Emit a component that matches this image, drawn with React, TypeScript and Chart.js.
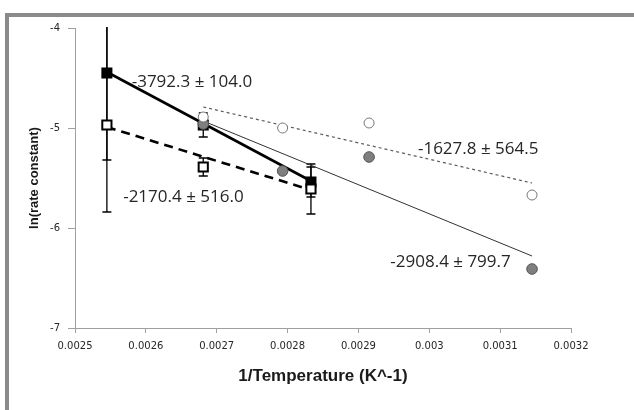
import React, { useEffect, useRef } from "react";
import { Chart, registerables } from "chart.js";

Chart.register(...registerables);

// ---- data ----
const squareX = [0.002545, 0.002681, 0.002833];
const filledSquareY = [-4.45, -4.97, -5.54];
const filledSquareErrUp = [0.87, 0.12, 0.15];
const filledSquareErrDown = [0.87, 0.12, 0.15];
const openSquareY = [-4.97, -5.39, -5.61];
const openSquareErrUp = [1.0, 0.09, 0.25];
const openSquareErrDown = [0.87, 0.09, 0.25];

const circleX = [0.002681, 0.002793, 0.002915, 0.003145];
const grayCircleY = [-4.96, -5.43, -5.29, -6.41];
const openCircleY = [-4.89, -5.0, -4.95, -5.67];

const filledFitX = [0.002545, 0.002833];
const filledFitY = [-4.44, -5.53];
const openFitX = [0.002545, 0.002833];
const openFitY = [-4.99, -5.62];
const openCircleFitX = [0.002681, 0.003145];
const openCircleFitY = [-4.79, -5.55];
const grayFitX = [0.002681, 0.003145];
const grayFitY = [-4.93, -6.28];

const slopeLabels = ["-3792.3 ± 104.0", "-2170.4 ± 516.0", "-1627.8 ± 564.5", "-2908.4 ± 799.7"];
const slopeLabelX = [0.00258, 0.002568, 0.002984, 0.002945];
const slopeLabelY = [-4.54, -5.69, -5.21, -6.34];

const xMin = 0.0025;
const xMax = 0.0032;
const xStep = 0.0001;
const yMin = -7;
const yMax = -4;
const yStep = 1;
const xTitle = "1/Temperature (K^-1)";
const yTitle = "ln(rate constant)";

const pts = (xs: number[], ys: number[]) => xs.map((x, i) => ({ x, y: ys[i] }));

const framePlugin = {
  id: "frame",
  beforeDraw(chart: any) {
    const { ctx, width, height } = chart;
    ctx.save();
    ctx.fillStyle = "#ffffff";
    ctx.fillRect(0, 0, width, height);
    ctx.fillStyle = "#8a8a8a";
    ctx.fillRect(5, 13, width - 5, 4);
    ctx.fillRect(5, 13, 4, height - 13);
    ctx.restore();
  },
};

const errorBarPlugin = {
  id: "errorBars",
  beforeDatasetsDraw(chart: any) {
    const { ctx, chartArea, scales } = chart;
    const xs = scales.x;
    const ys = scales.y;
    ctx.save();
    ctx.beginPath();
    ctx.rect(chartArea.left, chartArea.top - 1, chartArea.right - chartArea.left, chartArea.bottom - chartArea.top + 1);
    ctx.clip();
    ctx.strokeStyle = "#000000";
    ctx.lineWidth = 1.3;
    const draw = (xv: number[], yv: number[], up: number[], down: number[]) => {
      xv.forEach((x, i) => {
        const px = xs.getPixelForValue(x);
        const top = ys.getPixelForValue(yv[i] + up[i]);
        const bot = ys.getPixelForValue(yv[i] - down[i]);
        ctx.beginPath();
        ctx.moveTo(px, top);
        ctx.lineTo(px, bot);
        ctx.moveTo(px - 4.5, top);
        ctx.lineTo(px + 4.5, top);
        ctx.moveTo(px - 4.5, bot);
        ctx.lineTo(px + 4.5, bot);
        ctx.stroke();
      });
    };
    draw(squareX, filledSquareY, filledSquareErrUp, filledSquareErrDown);
    draw(squareX, openSquareY, openSquareErrUp, openSquareErrDown);
    ctx.restore();
  },
};

const labelPlugin = {
  id: "slopeLabels",
  afterDatasetsDraw(chart: any) {
    const { ctx, scales } = chart;
    ctx.save();
    ctx.font = '17px "Open Sans", "Liberation Sans", sans-serif';
    ctx.fillStyle = "#262626";
    ctx.textAlign = "left";
    ctx.textBaseline = "middle";
    slopeLabels.forEach((t, i) => {
      ctx.fillText(t, scales.x.getPixelForValue(slopeLabelX[i]), scales.y.getPixelForValue(slopeLabelY[i]));
    });
    ctx.restore();
  },
};

export default function App() {
  const ref = useRef<HTMLCanvasElement | null>(null);

  useEffect(() => {
    if (!ref.current) return;
    const tickFont = { family: '"DejaVu Sans", sans-serif', size: 10 };
    const chart = new Chart(ref.current, {
      type: "scatter",
      data: {
        datasets: [
          {
            label: "open circles",
            data: pts(circleX, openCircleY),
            pointStyle: "circle",
            pointRadius: 5,
            pointBackgroundColor: "#ffffff",
            pointBorderColor: "#7a7a7a",
            pointBorderWidth: 1,
            showLine: false,
            order: 1,
          },
          {
            label: "gray circles",
            data: pts(circleX, grayCircleY),
            pointStyle: "circle",
            pointRadius: 5.3,
            pointBackgroundColor: "#7f7f7f",
            pointBorderColor: "#555555",
            pointBorderWidth: 1,
            showLine: false,
            order: 2,
          },
          {
            label: "open squares",
            data: pts(squareX, openSquareY),
            pointStyle: "rect",
            pointRadius: 6.5,
            pointBackgroundColor: "#ffffff",
            pointBorderColor: "#000000",
            pointBorderWidth: 2,
            showLine: false,
            order: 3,
          },
          {
            label: "filled squares",
            data: pts(squareX, filledSquareY),
            pointStyle: "rect",
            pointRadius: 7.8,
            pointBackgroundColor: "#000000",
            pointBorderColor: "#000000",
            pointBorderWidth: 0,
            showLine: false,
            order: 4,
          },
          {
            label: "filled fit",
            data: pts(filledFitX, filledFitY),
            showLine: true,
            pointRadius: 0,
            borderColor: "#000000",
            borderWidth: 2.6,
            order: 10,
          },
          {
            label: "open fit",
            data: pts(openFitX, openFitY),
            showLine: true,
            pointRadius: 0,
            borderColor: "#000000",
            borderWidth: 2.6,
            borderDash: [9, 6],
            order: 11,
          },
          {
            label: "open circle fit",
            data: pts(openCircleFitX, openCircleFitY),
            showLine: true,
            pointRadius: 0,
            borderColor: "#5a5a5a",
            borderWidth: 1.2,
            borderDash: [3, 3],
            order: 12,
          },
          {
            label: "gray fit",
            data: pts(grayFitX, grayFitY),
            showLine: true,
            pointRadius: 0,
            borderColor: "#333333",
            borderWidth: 1,
            order: 13,
          },
        ],
      },
      options: {
        animation: false,
        responsive: false,
        devicePixelRatio: 1,
        layout: { padding: { left: 0, top: 28, right: 63, bottom: 0 } },
        plugins: {
          legend: { display: false },
          tooltip: { enabled: false },
        },
        scales: {
          x: {
            type: "linear",
            min: xMin,
            max: xMax,
            afterFit: (s: any) => {
              s.height = 82;
            },
            ticks: {
              stepSize: xStep,
              font: tickFont,
              color: "#262626",
              padding: 7,
              maxRotation: 0,
              autoSkip: false,
              callback: (v: any) => parseFloat(Number(v).toFixed(4)).toString(),
            },
            grid: { drawOnChartArea: false, drawTicks: true, tickLength: 5, color: "#a0a0a0" },
            border: { color: "#a0a0a0" },
            title: {
              display: true,
              text: xTitle,
              color: "#1a1a1a",
              font: { family: '"Liberation Sans Narrow", "Liberation Sans", sans-serif', size: 17, weight: "bold" },
              padding: { top: 0, bottom: 23 },
            },
          },
          y: {
            type: "linear",
            min: yMin,
            max: yMax,
            afterFit: (s: any) => {
              s.width = 75;
            },
            ticks: {
              stepSize: yStep,
              font: tickFont,
              color: "#262626",
              padding: 8,
            },
            grid: { drawOnChartArea: false, drawTicks: true, tickLength: 7, color: "#a0a0a0" },
            border: { color: "#a0a0a0" },
            title: {
              display: true,
              text: yTitle,
              color: "#1a1a1a",
              font: { family: '"Liberation Sans", sans-serif', size: 13, weight: "bold" },
              padding: { top: 27, bottom: 0 },
            },
          },
        },
      },
      plugins: [framePlugin, errorBarPlugin, labelPlugin],
    } as any);
    return () => chart.destroy();
  }, []);

  return (
    <div style={{ position: "fixed", left: 0, top: 0, width: 634, height: 410, background: "#fff" }}>
      <canvas ref={ref} width={634} height={410} style={{ display: "block", width: 634, height: 410 }} />
    </div>
  );
}
